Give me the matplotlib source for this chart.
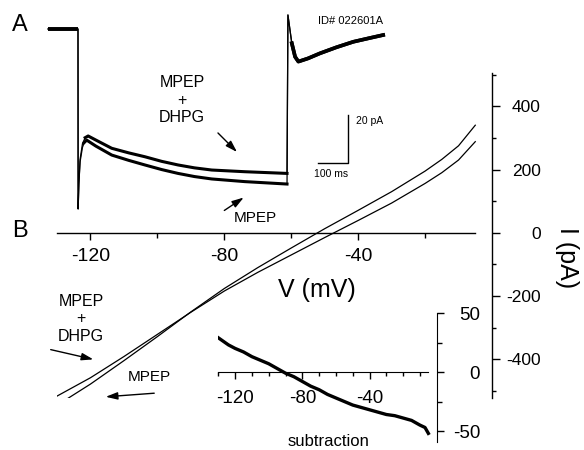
import matplotlib
matplotlib.use("Agg")
import matplotlib.pyplot as plt
from matplotlib.patches import FancyArrowPatch

plt.rcParams["font.family"] = ["Liberation Sans", "DejaVu Sans"]
plt.rcParams["axes.unicode_minus"] = False

W, H = 584, 450

# A: whole-cell current traces (ms, pA relative to holding current)
step_t_dhpg = [-100, 0, 0.5, 3, 7, 15, 24, 34, 60, 113, 170, 224, 280, 335, 390, 448, 559, 700]
step_i_dhpg = [0, 0, -74.5, -64, -54, -47.5, -45.0, -44.3, -46.0, -49.4, -51.3, -52.9,
               -54.8, -56.3, -57.5, -58.4, -59.1, -59.8]
step_t_mpep = [-100, 0, 0.5, 3, 7, 15, 21, 29, 60, 113, 170, 224, 280, 335, 390, 448, 559, 700]
step_i_mpep = [0, 0, -74.5, -64, -55, -49, -47, -46, -48.5, -52.2, -54.4, -56.3,
               -58.2, -59.8, -61.1, -62.1, -63.2, -64.2]
tail_t = [703, 716, 727, 738, 770, 810, 865, 922, 975, 1022]
tail_i = [5.8, -5.9, -11.5, -13.5, -12.2, -10.1, -7.6, -5.3, -3.8, -2.5]

# B: I-V relation from ramp (mV, pA)
iv_v = [-130, -120, -110, -100, -90, -80, -70, -60, -50, -40, -30, -20, -15, -10, -5]
iv_mpep = [-545, -478, -404, -328, -250, -176, -110, -48, 13, 71, 130, 195, 232, 275, 340]
iv_dhpg = [-516, -458, -391, -321, -251, -184, -125, -70, -15, 39, 94, 156, 190, 230, 288]
iv_xticks = [-120, -80, -40]
iv_xminor = [-100, -60, -20]
iv_yticks = [-400, -200, 0, 200, 400]
iv_yminor = [-500, -300, -100, 100, 300, 500]

# B inset: subtraction (MPEP+DHPG minus MPEP)
sub_v = [-130, -129, -124, -120, -115, -110, -105, -100, -95, -90, -85, -80, -75, -70,
         -65, -60, -55, -50, -45, -40, -35, -30, -25, -20, -15, -10, -7, -5]
sub_i = [29, 28, 23, 20, 17, 13, 10, 7, 3, -1, -4, -8, -12, -15,
         -19, -22, -25, -28, -30, -32, -34, -36, -37, -39, -41, -45, -47, -52]
sub_xticks = [-120, -80, -40]
sub_xminor = [-130, -110, -100, -90, -70, -60, -50, -30, -20, -10]
sub_yticks = [-50, 0, 50]
sub_yminor = [-25, 25]


def px_rect(x0, y0, x1, y1):
    return [x0 / W, 1 - y1 / H, (x1 - x0) / W, (y1 - y0) / H]


def px(x, y):
    return (x / W, 1 - y / H)


def arrow(fig, start, end):
    a = FancyArrowPatch(px(*start), px(*end), transform=fig.transFigure,
                        arrowstyle="-|>,head_length=0.7,head_width=0.22",
                        mutation_scale=10, lw=1.0, color="black")
    fig.add_artist(a)


def _plot_traces(fig):
    ax = fig.add_axes(px_rect(20, 0, 420, 225))
    ax.axis("off")
    for t, i in ((step_t_dhpg, step_i_dhpg), (step_t_mpep, step_i_mpep)):
        tt, ii = t + tail_t, i + tail_i
        # fast transitions are thin, noisy steady parts look thick
        ax.plot(tt, ii, color="black", lw=0.9)
        ax.plot(t[:2], i[:2], color="black", lw=2.6, solid_capstyle="butt")
        ax.plot(t[6:], i[6:], color="black", lw=2.2)
        ax.plot(tail_t[1:], tail_i[1:], color="black", lw=2.6)
    ax.set_xlim(-194.2, 1145.3)
    ax.set_ylim(-81.16, 12.0)
    # scale bar 100 ms / 20 pA
    ax.plot([805, 905, 905], [-55.6, -55.6, -35.6], color="black", lw=1.0)
    fig.text(*px(356, 121), "20 pA", fontsize=7.5, va="center")
    fig.text(*px(331, 174), "100 ms", fontsize=7.5, ha="center", va="center")
    fig.text(*px(350, 21), "ID# 022601A", fontsize=8, ha="center", va="center")
    fig.text(*px(182, 100), "MPEP\n+\nDHPG", fontsize=11.5, ha="center",
             va="center", linespacing=1.2)
    arrow(fig, (216, 131), (239, 154))
    fig.text(*px(255, 218), "MPEP", fontsize=11, ha="center", va="center")
    arrow(fig, (222, 212), (246, 196))
    return ax


def _plot_iv(fig):
    ax = fig.add_axes(px_rect(57, 73, 492, 398))
    ax.patch.set_alpha(0)
    ax.plot(iv_v, iv_mpep, color="black", lw=0.9)
    ax.plot(iv_v, iv_dhpg, color="black", lw=0.9)
    ax.set_xlim(-130, 0)
    ax.set_ylim(-522, 505)
    ax.spines["top"].set_visible(False)
    ax.spines["left"].set_visible(False)
    ax.spines["bottom"].set_position(("data", 0))
    ax.spines["bottom"].set_bounds(-130, -5)
    for s in ("bottom", "right"):
        ax.spines[s].set_linewidth(1.0)
    ax.yaxis.tick_right()
    ax.set_xticks(iv_xticks)
    ax.set_xticklabels([str(v) for v in iv_xticks])
    ax.set_xticks(iv_xminor, minor=True)
    ax.set_yticks(iv_yticks)
    ax.set_yticklabels([str(v) for v in iv_yticks])
    ax.set_yticks(iv_yminor, minor=True)
    ax.tick_params(axis="x", which="major", direction="out", length=5, width=1,
                   labelsize=14, pad=6)
    ax.tick_params(axis="x", which="minor", direction="out", length=3.5, width=1)
    ax.tick_params(axis="y", which="major", direction="out", length=6, width=1,
                   labelsize=12.5, pad=29)
    ax.tick_params(axis="y", which="minor", direction="out", length=3, width=1)
    plt.setp(ax.get_yticklabels(), ha="right")
    fig.text(*px(317, 290), "V (mV)", fontsize=18, ha="center", va="center")
    fig.text(*px(567, 258), "I (pA)", fontsize=18, ha="center", va="center",
             rotation=270)
    fig.text(*px(81, 319), "MPEP\n+\nDHPG", fontsize=11.5, ha="center",
             va="center", linespacing=1.2)
    arrow(fig, (48, 349), (96, 360))
    fig.text(*px(149, 377), "MPEP", fontsize=11, ha="center", va="center")
    arrow(fig, (157, 393), (103, 397))
    return ax


def _plot_subtraction(fig):
    ax = fig.add_axes(px_rect(218.3, 313, 437.1, 442))
    ax.patch.set_alpha(0)
    ax.plot(sub_v, sub_i, color="black", lw=2.4)
    ax.set_xlim(-130, 0.2)
    ax.set_ylim(-59.3, 50)
    ax.spines["top"].set_visible(False)
    ax.spines["left"].set_visible(False)
    ax.spines["bottom"].set_position(("data", 0))
    ax.spines["bottom"].set_bounds(-130, -5)
    ax.yaxis.tick_right()
    ax.set_xticks(sub_xticks)
    ax.set_xticklabels([str(v) for v in sub_xticks])
    ax.set_xticks(sub_xminor, minor=True)
    ax.set_yticks(sub_yticks)
    ax.set_yticklabels([str(v) for v in sub_yticks])
    ax.set_yticks(sub_yminor, minor=True)
    ax.tick_params(axis="x", which="major", direction="out", length=5, width=1,
                   labelsize=13.5, pad=8)
    ax.tick_params(axis="x", which="minor", direction="out", length=3, width=1)
    ax.tick_params(axis="y", which="major", direction="out", length=5, width=1,
                   labelsize=13.5, pad=26)
    ax.tick_params(axis="y", which="minor", direction="out", length=3.5, width=1)
    plt.setp(ax.get_yticklabels(), ha="right")
    fig.text(*px(329, 442), "subtraction", fontsize=12, ha="center", va="center")
    return ax


def main():
    fig = plt.figure(figsize=(W / 100, H / 100), dpi=100)
    _plot_traces(fig)
    _plot_iv(fig)
    _plot_subtraction(fig)
    fig.text(*px(20, 25), "A", fontsize=17, ha="center", va="center")
    fig.text(*px(20, 231), "B", fontsize=17, ha="center", va="center")
    fig.savefig("out.png", dpi=100)
    plt.close(fig)


if __name__ == "__main__":
    main()
